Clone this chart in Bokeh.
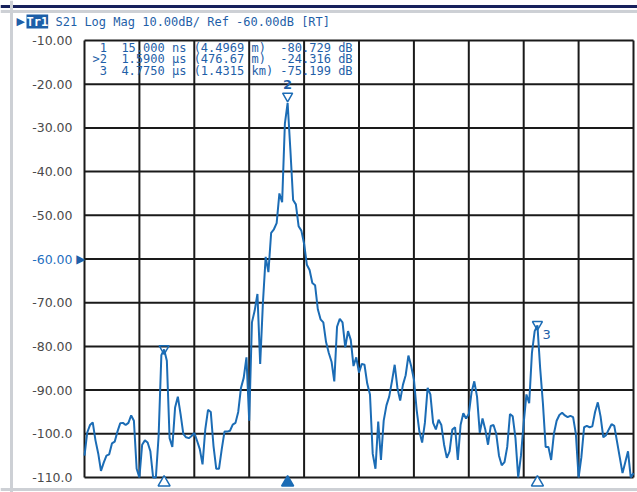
import numpy as np
from bokeh.plotting import figure
from bokeh.models import Label, Range1d, Span
from bokeh.core.properties import value
from bokeh.embed import file_html
from bokeh.resources import INLINE

# ---- data -------------------------------------------------------------
t_start, t_stop = -1.0, 6.0          # sweep in microseconds
db_bottom, db_top = -110, -10
n_points = 201
trace_db = [
    -105, -99.7, -98, -97.4, -101.5, -104.5, -108.5, -106.6, -105, -104.7,
    -102.2, -101.8, -99.5, -97.6, -97.5, -98, -97.5, -95.8, -97, -108,
    -110, -102.5, -101.5, -102, -104, -110, -110, -100.5, -82, -80.7,
    -83.3, -101, -103, -94, -91.5, -95.5, -100, -100.8, -101, -100.5,
    -99.8, -101.6, -103.5, -107, -99, -94.5, -95, -102.8, -108, -108,
    -103.5, -99.5, -99.5, -99.3, -97.9, -97.5, -95, -89.5, -87.2, -82.5,
    -97, -74.5, -71.8, -68, -84, -70, -59.5, -63, -54, -53.2,
    -51.8, -45, -47, -29, -24.3, -35, -46.5, -47.5, -52.5, -53.5,
    -56.5, -61.3, -62.5, -65.5, -66, -71.5, -73.8, -74.5, -79, -81.5,
    -83.5, -88, -75.5, -73.7, -74.5, -80.2, -76.5, -78.5, -84.5, -82.5,
    -86, -84, -84.2, -88.5, -91, -104.6, -108, -97.2, -106, -97,
    -93.5, -91.5, -88, -84.2, -89.5, -92.4, -88.8, -86.6, -82.1, -84.5,
    -87.5, -94.5, -99.5, -102, -97.5, -89.5, -91, -97.5, -99, -96.8,
    -98, -102.5, -105.5, -104, -99, -98.5, -106, -98, -95.3, -96.5,
    -95.5, -90.5, -88, -91.5, -99.8, -96.5, -99, -102.5, -98.2, -98,
    -100, -105, -107.2, -106.5, -103, -95.5, -96, -101, -110, -105,
    -97.5, -91, -93, -81.5, -76.5, -75.2, -85, -93, -103, -103,
    -106, -100, -97, -95.7, -95.2, -95.8, -96.2, -95.9, -96.2, -100,
    -110, -105.4, -98.5, -98.2, -98.5, -98.3, -95, -92.8, -96, -100.8,
    -100.3, -99, -97.8, -98.2, -101.8, -105.4, -109, -106.5, -104, -110,
    -109,
]
y_ticks = [-110, -100, -90, -80, -70, -60, -50, -40, -30, -20, -10]
y_tick_labels = ["-110.0", "-100.0", "-90.00", "-80.00", "-70.00", "-60.00",
                 "-50.00", "-40.00", "-30.00", "-20.00", "-10.00"]
x_divisions = [-1.0, -0.3, 0.4, 1.1, 1.8, 2.5, 3.2, 3.9, 4.6, 5.3, 6.0]
ref_level = -60
marker_ids = ["1", "2", "3"]
marker_t = [0.015, 1.59, 4.775]
marker_db = [-80.729, -24.316, -75.199]
active_marker = "2"
marker_rows = [
    " 1  15.000 ns (4.4969 m)  -80.729 dB",
    ">2  1.5900 µs (476.67 m)  -24.316 dB",
    " 3  4.7750 µs (1.4315 km) -75.199 dB",
]
trace_name = "Tr1"
header = "S21 Log Mag 10.00dB/ Ref -60.00dB [RT]"

# ---- layout (pixels of the instrument screen) -------------------------
W, H = 637, 492
BOX_L, BOX_R, BOX_T, BOX_B = 84, 633, 40, 477
px_per_t = (BOX_R - BOX_L) / (t_stop - t_start)
px_per_db = (BOX_B - BOX_T) / (db_top - db_bottom)


def sx_to_t(sx):
    return t_start + (sx - BOX_L) / px_per_t


def sy_to_db(sy):
    return db_top - (sy - BOX_T) / px_per_db


BLUE = "#1b6cb5"
TXT_BLUE = "#1f5fa8"
GRID = "#1a1a1a"
NBSP = "\u00a0"

t = np.linspace(t_start, t_stop, n_points)

p = figure(width=W, height=H, output_backend="svg", toolbar_location=None,
           x_range=Range1d(sx_to_t(0), sx_to_t(W)),
           y_range=Range1d(sy_to_db(H), sy_to_db(0)),
           min_border=0, background_fill_color=None, border_fill_color=None)
p.xaxis.visible = False
p.yaxis.visible = False
p.grid.visible = False
p.outline_line_color = None
p.title.visible = False

# screen frame decorations
p.add_layout(Span(location=sy_to_db(6), dimension="width", line_color="#17215c", line_width=3))
p.add_layout(Span(location=sy_to_db(11), dimension="width", line_color="#cdd0d5", line_width=3))
p.add_layout(Span(location=sx_to_t(11), dimension="height", line_color="#cdd0d5", line_width=3))
p.add_layout(Span(location=sy_to_db(489), dimension="width", line_color="#cdd0d5", line_width=3))

# graticule from the division arrays
p.multi_line(xs=[[d, d] for d in x_divisions],
             ys=[[db_bottom, db_top] for _ in x_divisions],
             line_color=GRID, line_width=2)
p.multi_line(xs=[[t_start, t_stop] for _ in y_ticks],
             ys=[[v, v] for v in y_ticks],
             line_color=GRID, line_width=2)

# y scale labels (reference level in blue)
label_colors = ["#1f6fc0" if v == ref_level else "#4a4a4a" for v in y_ticks]
p.text(x=[t_start] * len(y_ticks), y=y_ticks, text=y_tick_labels,
       text_align="right", text_baseline="middle", x_offset=-12,
       text_color=label_colors, text_font=value("DejaVu Sans"),
       text_font_size="12.5px")
p.text(x=[t_start], y=[ref_level], text=["▶"], text_align="right",
       text_baseline="middle", x_offset=1, text_color=TXT_BLUE,
       text_font=value("DejaVu Sans"), text_font_size="12px")

# trace
p.line(t, trace_db, line_color=BLUE, line_width=2)

# on-trace markers
lift_px = [1, 7, 1]
p.scatter(x=marker_t, y=[d + lp / px_per_db for d, lp in zip(marker_db, lift_px)],
          marker="inverted_triangle", size=10, fill_color=None,
          line_color=BLUE, line_width=1.5)
i2 = marker_ids.index("2")
p.text(x=[marker_t[i2]], y=[marker_db[i2]], text=[marker_ids[i2]],
       text_align="center", text_baseline="bottom", text_color=TXT_BLUE,
       text_font=value("DejaVu Sans"), text_font_size="13px",
       text_font_style="bold", y_offset=-14)
i3 = marker_ids.index("3")
p.text(x=[marker_t[i3]], y=[marker_db[i3]], text=[marker_ids[i3]],
       text_align="left", text_baseline="middle", text_color=TXT_BLUE,
       text_font=value("DejaVu Sans"), text_font_size="13px", x_offset=5, y_offset=9)

# marker triangles under the graticule
p.scatter(x=marker_t, y=[sy_to_db(482)] * len(marker_t), marker="triangle",
          size=12, line_color=BLUE, line_width=1.5,
          fill_color=[BLUE if m == active_marker else "white" for m in marker_ids])

# header line
hy = sy_to_db(21)
p.add_layout(Label(x=sx_to_t(16), y=hy, text="▶", text_align="left",
                   text_baseline="middle", text_color=TXT_BLUE,
                   text_font="DejaVu Sans", text_font_size="11px"))
p.add_layout(Label(x=sx_to_t(26), y=hy, text=trace_name, text_align="left",
                   text_baseline="middle", text_color="white",
                   text_font="DejaVu Sans Mono", text_font_size="12px",
                   text_font_style="bold", background_fill_color="#1d5fa8"))
p.add_layout(Label(x=sx_to_t(55), y=hy, text=header, text_align="left",
                   text_baseline="middle", text_color=TXT_BLUE,
                   text_font="DejaVu Sans Mono", text_font_size="12px"))

# marker readout table
for k, row in enumerate(marker_rows):
    p.add_layout(Label(x=sx_to_t(92), y=sy_to_db(47.5 + 11.3 * k),
                       text=row.replace(" ", NBSP),
                       text_align="left", text_baseline="middle",
                       text_color=TXT_BLUE, text_font="DejaVu Sans Mono",
                       text_font_size="12px"))

open("out.html", "w").write(file_html(p, INLINE))
